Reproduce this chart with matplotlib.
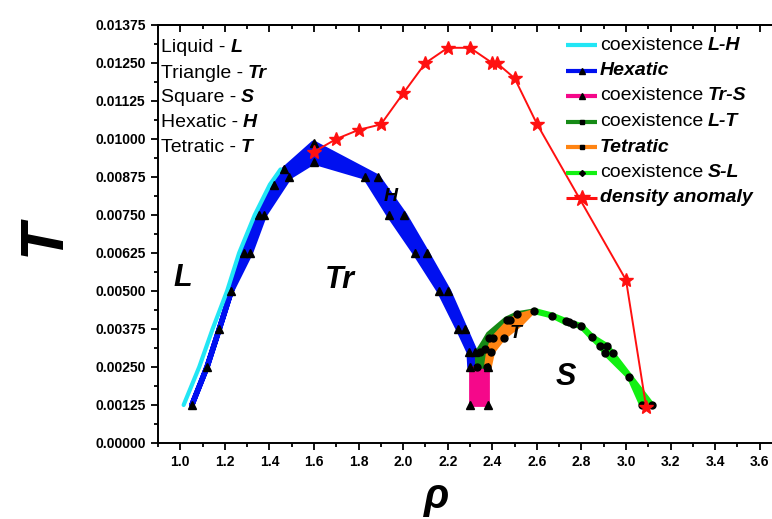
import matplotlib
matplotlib.use('Agg')
import matplotlib.pyplot as plt
from matplotlib.lines import Line2D
from matplotlib.ticker import MultipleLocator, NullFormatter
import numpy as np

plt.rcParams['font.family'] = ['Liberation Sans', 'DejaVu Sans']

# ---------------- data ----------------
# L-H coexistence (liquid-side boundary)
rho_LH = [1.015, 1.085, 1.145, 1.21, 1.264, 1.334, 1.402, 1.45]
T_LH = [0.00125, 0.0025, 0.00375, 0.005, 0.00625, 0.0075, 0.0085, 0.009]

# Hexatic: outer boundary (left branch up, over the top, right branch down)
rho_H_out = [1.052, 1.12, 1.175, 1.229, 1.284, 1.351, 1.42, 1.466, 1.598,
             1.885, 2.006, 2.106, 2.203, 2.278, 2.323, 2.33]
T_H_out = [0.00125, 0.0025, 0.00375, 0.005, 0.00625, 0.0075, 0.0085, 0.009, 0.00986,
           0.00875, 0.0075, 0.00625, 0.005, 0.00375, 0.003, 0.0025]
# Hexatic: inner boundary (right branch up, under the top, left branch down)
rho_H_in = [2.30, 2.296, 2.248, 2.163, 2.054, 1.937, 1.83, 1.598,
            1.49, 1.377, 1.314, 1.229, 1.175, 1.12, 1.052]
T_H_in = [0.0025, 0.003, 0.00375, 0.005, 0.00625, 0.0075, 0.00875, 0.00925,
          0.00876, 0.0075, 0.00625, 0.005, 0.00375, 0.0025, 0.00125]
# Hexatic data points (markers)
rho_H_pts = [1.052, 1.12, 1.175, 1.229, 1.284, 1.314, 1.351, 1.377, 1.42, 1.466, 1.49,
             1.598, 1.598, 1.83, 1.885, 1.937, 2.006, 2.054, 2.106, 2.163, 2.203,
             2.248, 2.278, 2.296, 2.323]
T_H_pts = [0.00125, 0.0025, 0.00375, 0.005, 0.00625, 0.00625, 0.0075, 0.0075, 0.0085, 0.009,
           0.00876, 0.00986, 0.00925, 0.00875, 0.00875, 0.0075, 0.0075, 0.00625, 0.00625,
           0.005, 0.005, 0.00375, 0.00375, 0.003, 0.003]

# Tr-S coexistence
rho_TrS = [2.30, 2.38, 2.38, 2.30]
T_TrS = [0.00125, 0.00125, 0.0025, 0.0025]

# L-T coexistence
rho_LT_out = [2.33, 2.33, 2.36, 2.38, 2.46, 2.513, 2.587]
T_LT_out = [0.0025, 0.003, 0.00335, 0.0036, 0.0041, 0.00428, 0.00437]
rho_LT_in = [2.587, 2.513, 2.48, 2.40, 2.37, 2.36]
T_LT_in = [0.00434, 0.0042, 0.00402, 0.00348, 0.0031, 0.0025]
rho_LT_pts = [2.33, 2.345, 2.368, 2.383, 2.465, 2.513]
T_LT_pts = [0.0025, 0.003, 0.0031, 0.00346, 0.00405, 0.00423]

# Tetratic
rho_Tet_out = [2.37, 2.38, 2.40, 2.47, 2.513, 2.587]
T_Tet_out = [0.0025, 0.003, 0.00345, 0.004, 0.0042, 0.00435]
rho_Tet_in = [2.587, 2.53, 2.454, 2.405, 2.39]
T_Tet_in = [0.00433, 0.0039, 0.00346, 0.003, 0.0025]
rho_Tet_pts = [2.375, 2.394, 2.405, 2.454, 2.48, 2.587]
T_Tet_pts = [0.0025, 0.003, 0.00346, 0.00346, 0.00405, 0.00435]

# S-L coexistence
rho_SL_out = [2.587, 2.67, 2.75, 2.80, 2.85, 2.916, 2.94, 3.118]
T_SL_out = [0.00437, 0.00421, 0.00397, 0.00387, 0.0035, 0.0032, 0.00295, 0.00125]
rho_SL_in = [3.07, 3.015, 2.906, 2.883, 2.846, 2.797, 2.73, 2.67, 2.587]
T_SL_in = [0.00125, 0.00216, 0.00295, 0.0032, 0.00346, 0.00383, 0.00395, 0.00417, 0.00432]
rho_SL_pts = [2.67, 2.73, 2.745, 2.76, 2.797, 2.846, 2.883, 2.916, 2.906, 2.94, 3.015, 3.07, 3.118]
T_SL_pts = [0.00419, 0.004, 0.00397, 0.00392, 0.00385, 0.0035, 0.0032, 0.0032, 0.00295,
            0.00295, 0.00216, 0.00125, 0.00125]

# density anomaly
rho_DA = [1.6, 1.7, 1.8, 1.9, 2.0, 2.1, 2.2, 2.3, 2.4, 2.42, 2.5, 2.6, 3.0, 3.09]
T_DA = [0.00958, 0.0100, 0.0103, 0.01048, 0.0115, 0.0125, 0.0130, 0.0130, 0.0125, 0.0125,
        0.0120, 0.0105, 0.00536, 0.0012]

x_ticks = [1.0, 1.2, 1.4, 1.6, 1.8, 2.0, 2.2, 2.4, 2.6, 2.8, 3.0, 3.2, 3.4, 3.6]
y_ticks = [0.0, 0.00125, 0.0025, 0.00375, 0.005, 0.00625, 0.0075, 0.00875, 0.01,
           0.01125, 0.0125, 0.01375]

C_CYAN = '#22E6F5'
C_BLUE = '#0010F0'
C_PINK = '#F5088A'
C_DGREEN = '#168A16'
C_ORANGE = '#FF8412'
C_GREEN = '#12F012'
C_RED = '#FF1010'

# ---------------- figure ----------------
W, H = 772, 519
fig = plt.figure(figsize=(W / 100, H / 100), dpi=100)
ax = fig.add_axes([158 / W, 76 / H, 614 / W, 418 / H])
ax.set_xlim(0.9, 3.655)
ax.set_ylim(0, 0.01375)

# hexatic band
ax.fill(rho_H_out + rho_H_in, T_H_out + T_H_in, facecolor=C_BLUE, edgecolor=C_BLUE,
        lw=4.0, joinstyle='round', zorder=3)
# cyan L-H line (on the liquid side of the hexatic band)
ax.plot(rho_LH, T_LH, color=C_CYAN, lw=3.0, solid_capstyle='round', zorder=3.5)
# Tr-S
ax.fill(rho_TrS, T_TrS, facecolor=C_PINK, edgecolor=C_PINK, lw=2, zorder=3)
# L-T
ax.fill(rho_LT_out + rho_LT_in, T_LT_out + T_LT_in, facecolor=C_DGREEN, edgecolor=C_DGREEN,
        lw=2.5, joinstyle='round', zorder=3)
# tetratic
ax.fill(rho_Tet_out + rho_Tet_in, T_Tet_out + T_Tet_in, facecolor=C_ORANGE, edgecolor=C_ORANGE,
        lw=2.5, joinstyle='round', zorder=3.1)
# S-L
ax.fill(rho_SL_out + rho_SL_in, T_SL_out + T_SL_in, facecolor=C_GREEN, edgecolor=C_GREEN,
        lw=3.5, joinstyle='round', zorder=3)

# markers
ax.plot(rho_H_pts, T_H_pts, ls='none', marker='^', ms=5.5, color='black', zorder=5)
ax.plot(rho_TrS, T_TrS, ls='none', marker='^', ms=5.5, color='black', zorder=5)
ax.plot(rho_LT_pts, T_LT_pts, ls='none', marker='o', ms=5, color='black', zorder=5)
ax.plot(rho_Tet_pts, T_Tet_pts, ls='none', marker='o', ms=5, color='black', zorder=5)
ax.plot(rho_SL_pts, T_SL_pts, ls='none', marker='o', ms=5, color='black', zorder=5)

# density anomaly
ax.plot(rho_DA, T_DA, color=C_RED, lw=1.4, marker='*', ms=10, mec=C_RED, mfc=C_RED, zorder=6)

# region labels
big = dict(fontweight='bold', style='italic', color='black', ha='center', va='center', zorder=7)
ax.text(1.013, 0.00543, 'L', fontsize=22, **big)
ax.text(1.717, 0.00536, 'Tr', fontsize=22, **big)
ax.text(1.942, 0.0081, 'H', fontsize=14, **big)
ax.text(2.505, 0.0036, 'T', fontsize=14, **big)
ax.text(2.731, 0.00216, 'S', fontsize=22, **big)

# ---------------- axes styling ----------------
for s in ['left', 'bottom', 'top']:
    ax.spines[s].set_linewidth(1.4)
ax.spines['right'].set_visible(False)

ax.set_xticks(x_ticks)
ax.set_xticklabels(['%.1f' % v for v in x_ticks], fontweight='bold', fontsize=10)
ax.set_yticks(y_ticks)
ax.set_yticklabels(['%.5f' % v for v in y_ticks], fontweight='bold', fontsize=10)
ax.xaxis.set_minor_locator(MultipleLocator(0.1))
ax.yaxis.set_minor_locator(MultipleLocator(0.000625))
ax.tick_params(which='both', direction='out', top=False, right=False, width=1.3)
ax.tick_params(which='major', length=5, pad=4)
ax.tick_params(which='minor', length=3)

sec = ax.secondary_xaxis('top')
sec.set_xticks(x_ticks)
sec.xaxis.set_minor_locator(MultipleLocator(0.1))
sec.xaxis.set_major_formatter(NullFormatter())
sec.tick_params(which='both', direction='in', width=1.3)
sec.tick_params(which='major', length=5)
sec.tick_params(which='minor', length=3)
sec.spines['top'].set_linewidth(1.4)

# axis labels
fig.text(44 / W, 1 - 237 / H, 'T', rotation=90, fontsize=44, fontweight='bold', style='italic',
         ha='center', va='center')
fig.text(437 / W, 1 - 508 / H, 'ρ', fontsize=30, style='italic', fontweight='bold',
         ha='center', va='baseline')

# ---------------- top-left key ----------------
FS = 14
key_rows = [('Liquid -', 'L'), ('Triangle -', 'Tr'), ('Square -', 'S'),
            ('Hexatic -', 'H'), ('Tetratic -', 'T')]
for i, (a, b) in enumerate(key_rows):
    y = 1 - (48 + 25 * i) / H
    t1 = fig.text(161 / W, y, a, fontsize=FS, ha='left', va='center')
    ax.annotate(b, xy=(1, 0), xycoords=t1, xytext=(3.5, 0), textcoords='offset points',
                fontsize=FS, fontweight='bold', style='italic', ha='left', va='bottom',
                annotation_clip=False)

# ---------------- legend (manual) ----------------
leg_rows = [
    ('coexistence', 'L-H', C_CYAN, None, None, 0),
    (None, 'Hexatic', C_BLUE, '^', 'black', 4),
    ('coexistence', 'Tr-S', C_PINK, '^', 'black', 4),
    ('coexistence', 'L-T', C_DGREEN, 's', 'black', 3),
    (None, 'Tetratic', C_ORANGE, 's', 'black', 3),
    ('coexistence', 'S-L', C_GREEN, 'D', 'black', 3),
    (None, 'density anomaly', C_RED, '*', C_RED, 12),
]
for i, (reg, bi, col, mk, mc, msz) in enumerate(leg_rows):
    ypx = 45 + 25.5 * i
    y = 1 - ypx / H
    fig.add_artist(Line2D([566 / W, 597 / W], [y, y], transform=fig.transFigure,
                          color=col, lw=3 if i < 6 else 2.2, solid_capstyle='butt', zorder=10))
    if mk is not None:
        fig.add_artist(Line2D([581.5 / W], [y], transform=fig.transFigure, ls='none',
                              marker=mk, ms=msz, color=mc, zorder=11))
    if reg is not None:
        t1 = fig.text(600 / W, y, reg, fontsize=FS, ha='left', va='center', zorder=10)
        ax.annotate(bi, xy=(1, 0), xycoords=t1, xytext=(3.5, 0), textcoords='offset points',
                    fontsize=FS, fontweight='bold', style='italic', ha='left', va='bottom',
                    annotation_clip=False, zorder=10)
    else:
        fig.text(600 / W, y, bi, fontsize=FS, fontweight='bold', style='italic',
                 ha='left', va='center', zorder=10)

fig.savefig('out.png', dpi=100)
